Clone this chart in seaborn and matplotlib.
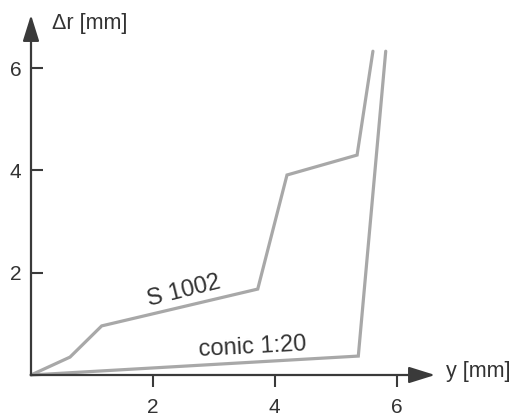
import matplotlib
matplotlib.use("Agg")
import matplotlib.pyplot as plt
import seaborn as sns
import pandas as pd

# Contact-point shift Δr versus lateral wheelset displacement y
s1002_y = [0.0, 0.64, 1.16, 3.72, 4.20, 5.35, 5.61]
s1002_dr = [0.0, 0.35, 0.96, 1.68, 3.91, 4.30, 6.33]
conic_y = [0.0, 5.37, 5.82]
conic_dr = [0.0, 0.37, 6.33]

x_ticks = [2, 4, 6]
y_ticks = [2, 4, 6]

sns.set_theme(style="white")
plt.rcParams["font.family"] = ["Liberation Sans", "DejaVu Sans"]

W, H = 515, 419
fig = plt.figure(figsize=(W / 100, H / 100), dpi=100)

x_max, y_max = 6.7, 7.1
px_x, px_y = 60.95, 51.15          # pixels per data unit
left_px, bottom_px = 31, 375
ax = fig.add_axes([left_px / W, 1 - bottom_px / H,
                   x_max * px_x / W, y_max * px_y / H])

line_col = "#a8a8a8"
axis_col = "#3a3a3a"
text_col = "#333333"

df_s = pd.DataFrame({"y": s1002_y, "dr": s1002_dr})
df_c = pd.DataFrame({"y": conic_y, "dr": conic_dr})
sns.lineplot(data=df_s, x="y", y="dr", sort=False, color=line_col, lw=2.3,
             ax=ax, clip_on=False, solid_joinstyle="miter")
sns.lineplot(data=df_c, x="y", y="dr", sort=False, color=line_col, lw=2.3,
             ax=ax, clip_on=False, solid_joinstyle="miter")

ax.set_xlim(0, x_max)
ax.set_ylim(0, y_max)
for sp in ax.spines.values():
    sp.set_visible(False)

# Axis lines with arrowheads
arrow = dict(arrowstyle="-|>,head_length=0.8,head_width=0.25",
             mutation_scale=20, color=axis_col, lw=1.6,
             shrinkA=0, shrinkB=0)
ax.annotate("", xy=(6.63, 0), xytext=(0, 0), arrowprops=arrow,
            annotation_clip=False)
ax.annotate("", xy=(0, 7.04), xytext=(0, 0), arrowprops=arrow,
            annotation_clip=False)

ax.set_xticks(x_ticks)
ax.set_yticks(y_ticks)
ax.set_xticklabels([str(v) for v in x_ticks])
ax.set_yticklabels([str(v) for v in y_ticks])
ax.tick_params(axis="x", direction="out", length=8.5, width=1.5,
               color=axis_col, labelcolor=text_col, labelsize=15, pad=8,
               bottom=True)
ax.tick_params(axis="y", direction="in", length=8.5, width=1.5,
               color=axis_col, labelcolor=text_col, labelsize=15, pad=7,
               left=True)
ax.set_xlabel("")
ax.set_ylabel("")

# Curve labels
ax.text(2.51, 1.64, "S 1002", rotation=14, rotation_mode="anchor",
        ha="center", va="center", fontsize=17, color=text_col)
ax.text(3.63, 0.55, "conic 1:20", rotation=3, rotation_mode="anchor",
        ha="center", va="center", fontsize=17, color=text_col)

# Axis titles
fig.text(52 / W, 1 - 24 / H, "Δr [mm]", ha="left", va="center",
         fontsize=15.5, color=text_col)
fig.text(446 / W, 1 - 371 / H, "y [mm]", ha="left", va="center",
         fontsize=15.5, color=text_col)

fig.savefig("out.png", dpi=100, facecolor="white")
